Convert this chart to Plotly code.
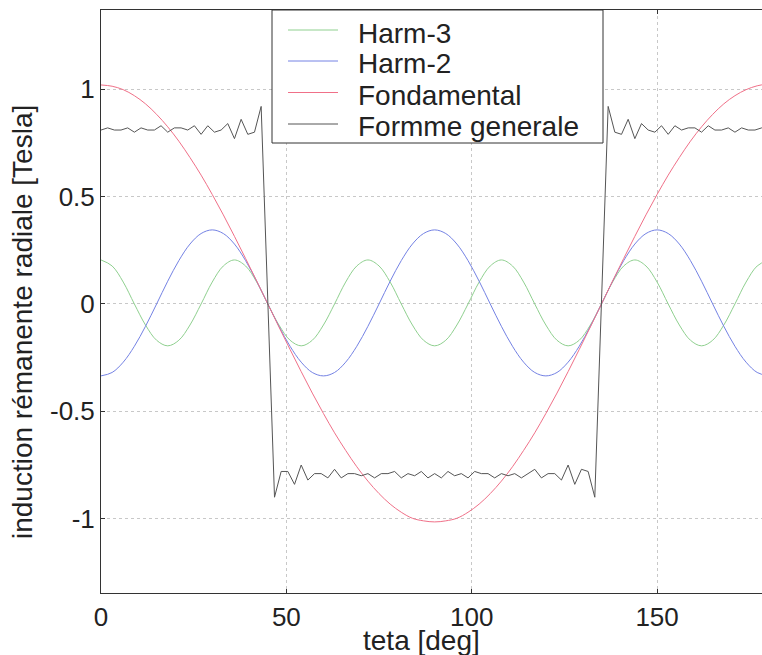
import plotly.graph_objects as go

# ---- data ----
theta_smooth = list(range(0, 181, 3))                 # sample grid [deg]
theta_gen = [round(1.8 * i, 1) for i in range(101)]   # sample grid of the general form [deg]

harm3 = [0.205, 0.177, 0.102, 0.00, -0.098, -0.169, -0.195, -0.169, -0.098, 0.00, 0.102, 0.177,
         0.205, 0.177, 0.102, 0.00, -0.098, -0.169, -0.195, -0.169, -0.098, 0.00, 0.102, 0.177,
         0.205, 0.177, 0.102, 0.00, -0.098, -0.169, -0.195, -0.169, -0.098, 0.00, 0.102, 0.177,
         0.205, 0.177, 0.102, 0.00, -0.098, -0.169, -0.195, -0.169, -0.098, 0.00, 0.102, 0.177,
         0.205, 0.177, 0.102, 0.00, -0.098, -0.169, -0.195, -0.169, -0.098, 0.00, 0.102, 0.177,
         0.205]

harm2 = [-0.335, -0.319, -0.271, -0.197, -0.104, 0.00, 0.106, 0.202, 0.279, 0.328,
         0.345, 0.328, 0.279, 0.202, 0.106, 0.00, -0.104, -0.197, -0.271, -0.319,
         -0.335, -0.319, -0.271, -0.197, -0.104, 0.00, 0.106, 0.202, 0.279, 0.328,
         0.345, 0.328, 0.279, 0.202, 0.106, 0.00, -0.104, -0.197, -0.271, -0.319,
         -0.335, -0.319, -0.271, -0.197, -0.104, 0.00, 0.106, 0.202, 0.279, 0.328,
         0.345, 0.328, 0.279, 0.202, 0.106, 0.00, -0.104, -0.197, -0.271, -0.319,
         -0.335]

fondamental = [1.020, 1.014, 0.998, 0.970, 0.932, 0.883, 0.825, 0.758, 0.682, 0.600, 0.510,
               0.415, 0.315, 0.212, 0.107, 0.000,
               -0.107, -0.212, -0.315, -0.415, -0.510, -0.600, -0.682, -0.758, -0.825, -0.883,
               -0.932, -0.970, -0.998, -1.010, -1.015,
               -1.010, -0.998, -0.970, -0.932, -0.883, -0.825, -0.758, -0.682, -0.600, -0.510,
               -0.415, -0.315, -0.212, -0.107, 0.000,
               0.107, 0.212, 0.315, 0.415, 0.510, 0.600, 0.682, 0.758, 0.825, 0.883,
               0.932, 0.970, 0.998, 1.016, 1.025]

forme_generale = [
    0.81, 0.82, 0.81, 0.81, 0.82, 0.80, 0.82, 0.81, 0.81, 0.83, 0.80, 0.82, 0.82,
    0.81, 0.83, 0.79, 0.83, 0.80, 0.81, 0.84, 0.77, 0.86, 0.79, 0.80, 0.92,
    0.00,
    -0.90, -0.78, -0.78, -0.84, -0.75, -0.82, -0.79, -0.79, -0.81, -0.77, -0.81, -0.79,
    -0.79, -0.80, -0.79, -0.81, -0.79, -0.79, -0.78, -0.81, -0.79, -0.80, -0.78, -0.81,
    -0.79, -0.81, -0.78, -0.80, -0.79, -0.81, -0.78, -0.79, -0.79, -0.81, -0.79, -0.80,
    -0.79, -0.81, -0.79, -0.77, -0.81, -0.79, -0.79, -0.82, -0.75, -0.84, -0.77, -0.78,
    -0.90,
    0.00,
    0.92, 0.80, 0.79, 0.86, 0.77, 0.84, 0.81, 0.80, 0.83, 0.79, 0.83, 0.81, 0.82,
    0.82, 0.80, 0.83, 0.81, 0.81, 0.82, 0.80, 0.82, 0.81, 0.81, 0.82, 0.81]

series_names = ["Harm-3", "Harm-2", "Fondamental", "Formme generale"]
series_colors = ["#8fd08f", "#7482e4", "#f07088", "#555555"]
x_ticks = [0, 50, 100, 150]
y_ticks = [-1, -0.5, 0, 0.5, 1]
y_tick_labels = ["-1", "-0.5", "0", "0.5", "1"]

FONT = "Liberation Sans, Arial, sans-serif"
TXT = "#222222"
AX = "#333333"

fig = go.Figure()
series = [(theta_smooth, harm3, "spline"), (theta_smooth, harm2, "spline"),
          (theta_smooth, fondamental, "spline"), (theta_gen[:len(forme_generale)], forme_generale, "linear")]
for (xs, ys, shp), name, col in zip(series, series_names, series_colors):
    fig.add_trace(go.Scatter(x=xs, y=ys, name=name, mode="lines",
                             line=dict(color=col, width=1, shape=shp), showlegend=False))

# ---- legend box (MATLAB style, drawn in paper coordinates) ----
W_PLOT, H_PLOT, L, T = 661.0, 583.0, 101.0, 10.0
def px(x):
    return (x - L) / W_PLOT
def py(y):
    return (T + H_PLOT - y) / H_PLOT

shapes = [dict(type="rect", xref="paper", yref="paper", x0=px(272), x1=px(603), y0=py(143), y1=py(10),
               line=dict(color=AX, width=1), fillcolor="white", layer="above")]
annotations = []
row_line_y = [30, 61, 92.5, 124]
row_text_y = [33, 64, 95, 126]
for name, col, ly, ty in zip(series_names, series_colors, row_line_y, row_text_y):
    shapes.append(dict(type="line", xref="paper", yref="paper", x0=px(288), x1=px(338),
                       y0=py(ly), y1=py(ly), line=dict(color=col, width=1), layer="above"))
    annotations.append(dict(text=name, xref="paper", yref="paper", x=px(356), y=py(ty),
                            xanchor="left", yanchor="middle", showarrow=False,
                            font=dict(family=FONT, size=28, color=TXT)))

annotations += [
    dict(text="teta [deg]", xref="paper", yref="paper", x=px(421), y=py(640),
         xanchor="center", yanchor="middle", showarrow=False,
         font=dict(family=FONT, size=28, color=TXT)),
    dict(text="induction rémanente radiale [Tesla]", xref="paper", yref="paper",
         x=px(22), y=py(322), xanchor="center", yanchor="middle", textangle=-90,
         showarrow=False, font=dict(family=FONT, size=28, color=TXT)),
]

fig.update_layout(
    width=762, height=655,
    margin=dict(l=101, r=0, t=10, b=62, autoexpand=False),
    paper_bgcolor="white", plot_bgcolor="white",
    font=dict(family=FONT, color=TXT, size=26),
    showlegend=False,
    xaxis=dict(range=[0, 178.3], tickvals=x_ticks, ticks="inside", ticklen=4,
               tickcolor=AX, showline=True, linecolor=AX, linewidth=1,
               mirror="ticks", showgrid=True, gridcolor="#c8c8c8", griddash="dot",
               gridwidth=1, zeroline=False, tickfont=dict(size=26, color=TXT),
               ticklabelstandoff=1, automargin=False),
    yaxis=dict(range=[-1.346, 1.369], tickvals=y_ticks, ticktext=y_tick_labels,
               ticks="inside", ticklen=4, tickcolor=AX, showline=True,
               linecolor=AX, linewidth=1, mirror=False, showgrid=True,
               gridcolor="#c8c8c8", griddash="dot", gridwidth=1, zeroline=False,
               tickfont=dict(size=26, color=TXT), ticklabelstandoff=0, automargin=False),
    shapes=shapes,
    annotations=annotations,
)

fig.write_html("out.html", config={"displayModeBar": False},
               post_script="document.body.style.margin='0px';")
